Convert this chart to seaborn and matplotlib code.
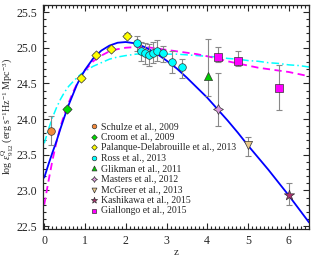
import numpy as np
import pandas as pd
import matplotlib
matplotlib.use("Agg")
import matplotlib.pyplot as plt
import seaborn as sns
from matplotlib.ticker import MultipleLocator

# model curves
z_curve = [0.0, 0.1, 0.2, 0.3, 0.4, 0.5, 0.6, 0.7, 0.8, 0.9, 1.0, 1.2, 1.4, 1.6, 1.8,
           2.0, 2.25, 2.5, 2.75, 3.0, 3.25, 3.5, 3.75, 4.0, 4.25, 4.5, 4.75, 5.0,
           5.25, 5.5, 5.75, 6.0, 6.25, 6.5]
blue_curve = [23.18, 23.36, 23.53, 23.69, 23.87, 24.04, 24.20, 24.34, 24.48, 24.59, 24.69,
              24.85, 24.96, 25.03, 25.07, 25.08, 25.06, 25.00, 24.92, 24.82, 24.71, 24.58,
              24.44, 24.30, 24.14, 23.98, 23.81, 23.63, 23.46, 23.29, 23.11, 22.93, 22.74, 22.55]
magenta_curve = [22.80, 23.12, 23.42, 23.68, 23.90, 24.08, 24.23, 24.37, 24.49, 24.60, 24.68,
                 24.81, 24.89, 24.95, 24.98, 25.00, 25.01, 25.01, 24.99, 24.97, 24.95, 24.93,
                 24.91, 24.88, 24.85, 24.81, 24.78, 24.75, 24.72, 24.70, 24.68, 24.66, 24.63, 24.60]
cyan_curve = [23.66, 23.85, 24.02, 24.16, 24.28, 24.38, 24.46, 24.52, 24.58, 24.63, 24.67,
              24.74, 24.79, 24.84, 24.87, 24.89, 24.91, 24.92, 24.92, 24.91, 24.91, 24.90,
              24.89, 24.88, 24.87, 24.85, 24.84, 24.82, 24.81, 24.79, 24.78, 24.76, 24.75, 24.73]

# observations: (z, value, err_low, err_high)
schulze_z, schulze_y = [0.16], [23.83]
schulze_lo, schulze_hi = [0.19], [0.21]
croom_z, croom_y = [0.56], [24.14]
croom_lo, croom_hi = [0.03], [0.03]
palanque_z, palanque_y = [0.89, 1.27, 1.65, 2.02], [24.58, 24.90, 24.98, 25.17]
palanque_lo, palanque_hi = [0.03, 0.03, 0.03, 0.04], [0.03, 0.03, 0.03, 0.04]
ross_z = [2.27, 2.37, 2.47, 2.56, 2.66, 2.76, 2.91, 3.14, 3.38]
ross_y = [25.06, 24.95, 24.92, 24.90, 24.93, 24.96, 24.92, 24.80, 24.73]
ross_lo = [0.11, 0.13, 0.15, 0.16, 0.15, 0.15, 0.12, 0.16, 0.16]
ross_hi = [0.11, 0.13, 0.14, 0.15, 0.15, 0.15, 0.11, 0.15, 0.11]
glikman_z, glikman_y = [4.01], [24.61]
glikman_lo, glikman_hi = [0.29], [0.51]
masters_z, masters_y = [4.26], [24.14]
masters_lo, masters_hi = [0.23], [0.50]
mcgreer_z, mcgreer_y = [5.01], [23.63]
mcgreer_lo, mcgreer_hi = [0.15], [0.12]
kashikawa_z, kashikawa_y = [6.0], [22.94]
kashikawa_lo, kashikawa_hi = [0.14], [0.16]
giallongo_z, giallongo_y = [4.26, 4.75, 5.75], [24.87, 24.81, 24.43]
giallongo_lo, giallongo_hi = [0.07, 0.07, 0.30], [0.14, 0.14, 0.33]

datasets = [
    ("Schulze et al., 2009", schulze_z, schulze_y, schulze_lo, schulze_hi, "o", "#f28a3c", 30),
    ("Croom et al., 2009", croom_z, croom_y, croom_lo, croom_hi, "D", "#00dd00", 22),
    ("Palanque-Delabrouille et al., 2013", palanque_z, palanque_y, palanque_lo, palanque_hi, "D", "#ffff00", 22),
    ("Ross et al., 2013", ross_z, ross_y, ross_lo, ross_hi, "o", "#00ffff", 30),
    ("Glikman et al., 2011", glikman_z, glikman_y, glikman_lo, glikman_hi, "^", "#00cc00", 34),
    ("Masters et al., 2012", masters_z, masters_y, masters_lo, masters_hi, (4, 1, 0), "#dd99dd", 50),
    ("McGreer et al., 2013", mcgreer_z, mcgreer_y, mcgreer_lo, mcgreer_hi, "v", "#e8c88a", 34),
    ("Kashikawa et al., 2015", kashikawa_z, kashikawa_y, kashikawa_lo, kashikawa_hi, "*", "#b03070", 60),
    ("Giallongo et al., 2015", giallongo_z, giallongo_y, giallongo_lo, giallongo_hi, "s", "#ff00ff", 28),
]

sns.set_style("ticks")
plt.rcParams["font.family"] = ["Liberation Serif", "DejaVu Serif"]
plt.rcParams["mathtext.fontset"] = "custom"
plt.rcParams["mathtext.rm"] = "Liberation Serif"
plt.rcParams["mathtext.it"] = "Liberation Serif:italic"

fig = plt.figure(figsize=(3.23, 2.59), dpi=100)
ax = fig.add_axes([0.132, 0.116, 0.825, 0.865])

curves = pd.DataFrame({"z": z_curve, "blue": blue_curve,
                       "magenta": magenta_curve, "cyan": cyan_curve})
sns.lineplot(data=curves, x="z", y="cyan", ax=ax, color="#00ffff", lw=1.1,
             linestyle=(0, (5, 2, 1, 2)), sort=False, estimator=None)
sns.lineplot(data=curves, x="z", y="magenta", ax=ax, color="#ff00ff", lw=1.3,
             linestyle=(0, (4, 2.5)), sort=False, estimator=None)
sns.lineplot(data=curves, x="z", y="blue", ax=ax, color="#0000ff", lw=1.3,
             sort=False, estimator=None)

for label, zs, ys, lo, hi, mk, col, size in datasets:
    ax.errorbar(zs, ys, yerr=[lo, hi], fmt="none", ecolor="#888888",
                elinewidth=0.8, capsize=2, capthick=0.8, zorder=3)
    sns.scatterplot(x=zs, y=ys, ax=ax, marker=mk, color=col, s=size,
                    edgecolor="#333333", linewidth=0.5, label=label, zorder=4)

ax.set_xlim(-0.04, 6.5)
ax.set_ylim(22.46, 25.6)
ax.xaxis.set_major_locator(MultipleLocator(1))
ax.xaxis.set_minor_locator(MultipleLocator(0.1))
ax.yaxis.set_major_locator(MultipleLocator(0.5))
ax.yaxis.set_minor_locator(MultipleLocator(0.1))
ax.set_yticklabels([f"{t:.1f}" for t in ax.get_yticks()])
ax.tick_params(which="both", direction="in", top=True, right=True, labelsize=8.5, width=0.8)
ax.tick_params(which="major", length=4, pad=4)
ax.tick_params(which="minor", length=2)
for s in ax.spines.values():
    s.set_linewidth(0.9)

ax.set_xlabel("z", fontsize=8, labelpad=1)
ax.set_ylabel(r"log $\epsilon^{\rm Q}_{912}$ (erg s$^{-1}$Hz$^{-1}$ Mpc$^{-3}$)",
              fontsize=7.3, labelpad=1)

leg = ax.legend(loc="upper left", bbox_to_anchor=(0.16, 0.50), frameon=False,
                fontsize=7, handlelength=0.8, handletextpad=0.35, labelspacing=0.16,
                borderpad=0, markerscale=0.6)

fig.savefig("out.png", dpi=100)
